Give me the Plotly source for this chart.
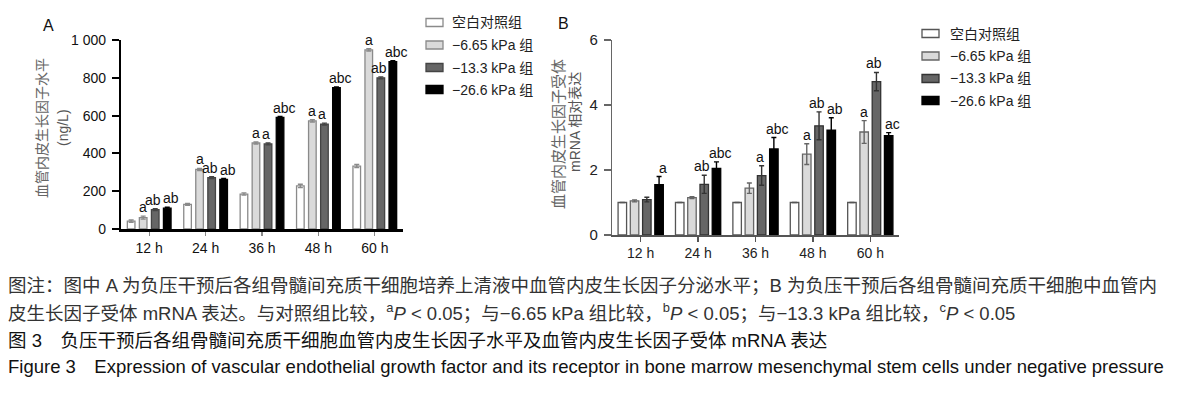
import plotly.graph_objects as go

W, H = 1179, 394
BASE = "Liberation Sans, Arial, Noto Sans CJK SC, sans-serif"

categories = ["12 h", "24 h", "36 h", "48 h", "60 h"]
groups = ["空白对照组", "−6.65 kPa 组", "−13.3 kPa 组", "−26.6 kPa 组"]

# Panel A: VEGF level (ng/L)
a_ctrl = [42, 130, 185, 228, 333]
a_665 = [60, 315, 455, 572, 948]
a_133 = [103, 272, 450, 555, 800]
a_266 = [110, 263, 590, 748, 886]
a_err_ctrl = [6, 5, 6, 9, 8]
a_err_665 = [8, 6, 5, 6, 6]
a_err_133 = [5, 5, 5, 5, 5]
a_err_266 = [5, 4, 5, 4, 5]
a_sig_ctrl = ["", "", "", "", ""]
a_sig_665 = ["a", "a", "a", "a", "a"]
a_sig_133 = ["ab", "ab", "a", "a", "ab"]
a_sig_266 = ["ab", "ab", "abc", "abc", "abc"]

# Panel B: VEGFR mRNA relative expression
b_ctrl = [1.0, 1.0, 1.0, 1.0, 1.0]
b_665 = [1.05, 1.15, 1.44, 2.49, 3.17]
b_133 = [1.09, 1.56, 1.83, 3.36, 4.72]
b_266 = [1.55, 2.05, 2.65, 3.23, 3.06]
b_err_ctrl = [0, 0, 0, 0, 0]
b_err_665 = [0.03, 0.03, 0.16, 0.32, 0.35]
b_err_133 = [0.07, 0.28, 0.30, 0.43, 0.28]
b_err_266 = [0.25, 0.20, 0.35, 0.38, 0.09]
b_sig_ctrl = ["", "", "", "", ""]
b_sig_665 = ["", "", "", "a", "a"]
b_sig_133 = ["", "ab", "a", "ab", "ab"]
b_sig_266 = ["a", "abc", "abc", "ab", "ac"]

a_ticks = [0, 200, 400, 600, 800, 1000]
a_ticktext = ["0", "200", "400", "600", "800", "1 000"]
b_ticks = [0, 2, 4, 6]

fills = ["#ffffff", "#dadada", "#666666", "#000000"]
lines_a = ["#8a8a8a", "#8a8a8a", "#444444", "#000000"]
lines_b = ["#555555", "#666666", "#333333", "#000000"]
offsets = [-0.32, -0.107, 0.107, 0.32]
label_shift = [0, 0, -2, 4]


def px(x):
    return x / W


def py(y):
    return 1 - y / H


fig = go.Figure()
annotations = []
shapes = []

panelA = [(a_ctrl, a_err_ctrl, a_sig_ctrl), (a_665, a_err_665, a_sig_665),
          (a_133, a_err_133, a_sig_133), (a_266, a_err_266, a_sig_266)]
panelB = [(b_ctrl, b_err_ctrl, b_sig_ctrl), (b_665, b_err_665, b_sig_665),
          (b_133, b_err_133, b_sig_133), (b_266, b_err_266, b_sig_266)]

for panel, xa, ya, bw, lcols in [(panelA, "x", "y", 0.135, lines_a), (panelB, "x2", "y2", 0.148, lines_b)]:
    for k, (vals, errs, sigs) in enumerate(panel):
        fig.add_trace(go.Bar(
            x=categories, y=vals, xaxis=xa, yaxis=ya,
            offset=offsets[k] - bw / 2, width=bw,
            marker=dict(color=fills[k], line=dict(color=lcols[k], width=1.3)),
            error_y=dict(type="data", array=errs, visible=True, color=lcols[k],
                         thickness=1.4, width=2.5),
            showlegend=False, name=groups[k], hoverinfo="skip",
        ))
        for i, s in enumerate(sigs):
            if s:
                annotations.append(dict(
                    x=i + offsets[k], y=vals[i] + errs[i], xref=xa, yref=ya,
                    text=s, showarrow=False, xanchor="center", yanchor="bottom",
                    yshift=-1, xshift=label_shift[k],
                    font=dict(family=BASE, size=14, color="#111111"),
                ))

# Legends (drawn manually)
for (bx, rows, lcols, tx) in [(426, [22.5, 45, 67.5, 89.5], lines_a, 450),
                              (922, [33.5, 56, 78.5, 100.5], lines_b, 948)]:
    for k, ry in enumerate(rows):
        shapes.append(dict(type="rect", xref="paper", yref="paper",
                           x0=px(bx), x1=px(bx + 17), y0=py(ry + 4), y1=py(ry - 4),
                           fillcolor=fills[k], line=dict(color=lcols[k], width=1.3)))
        annotations.append(dict(x=px(tx), y=py(ry), xref="paper", yref="paper",
                                text=groups[k], showarrow=False, xanchor="left",
                                yanchor="middle",
                                font=dict(family=BASE, size=14, color="#222222")))

# Panel letters
annotations.append(dict(x=px(48), y=py(25), xref="paper", yref="paper", text="A",
                        xanchor="center", yanchor="middle",
                        showarrow=False, font=dict(family=BASE, size=16, color="#111")))
annotations.append(dict(x=px(563), y=py(24), xref="paper", yref="paper", text="B",
                        xanchor="center", yanchor="middle",
                        showarrow=False, font=dict(family=BASE, size=16, color="#111")))

# Y-axis titles
ytitles = [
    ("血管内皮生长因子水平", 42, 128, 14, "#666666"),
    ("(ng/L)", 63, 128, 14, "#555555"),
    ("血管内皮生长因子受体", 558, 134, 15, "#666666"),
    ("mRNA 相对表达", 575, 122, 14, "#555555"),
]
for txt, xx, yy, fs, col in ytitles:
    annotations.append(dict(x=px(xx), y=py(yy), xref="paper", yref="paper",
                            text=txt, textangle=-90, showarrow=False,
                            xanchor="center", yanchor="middle",
                            font=dict(family=BASE, size=fs, color=col)))

# Caption
caption = [
    ("图注：图中 A 为负压干预后各组骨髓间充质干细胞培养上清液中血管内皮生长因子分泌水平；B 为负压干预后各组骨髓间充质干细胞中血管内", 285, "#333333"),
    ("皮生长因子受体 mRNA 表达。与对照组比较，<sup>a</sup><i>P</i> &lt; 0.05；与−6.65 kPa 组比较，<sup>b</sup><i>P</i> &lt; 0.05；与−13.3 kPa 组比较，<sup>c</sup><i>P</i> &lt; 0.05", 312, "#333333"),
    ("图 3　负压干预后各组骨髓间充质干细胞血管内皮生长因子水平及血管内皮生长因子受体 mRNA 表达", 340, "#111111"),
    ("Figure 3　Expression of vascular endothelial growth factor and its receptor in bone marrow mesenchymal stem cells under negative pressure", 366, "#111111"),
]
for txt, yy, col in caption:
    annotations.append(dict(x=px(6), y=py(yy), xref="paper", yref="paper", text=txt,
                            showarrow=False, xanchor="left", yanchor="middle",
                            font=dict(family=BASE, size=18.5, color=col)))

fig.update_layout(
    width=W, height=H, margin=dict(l=0, r=0, t=0, b=0, pad=0, autoexpand=False),
    paper_bgcolor="white", plot_bgcolor="white",
    barmode="overlay", showlegend=False, hovermode=False,
    annotations=annotations, shapes=shapes,
    font=dict(family=BASE, size=14, color="#222"),
    xaxis=dict(domain=[px(121), px(403)], range=[-0.5, 4.5], type="category",
               automargin=False,
               showline=True, linecolor="#000", linewidth=2.5, ticks="outside",
               ticklen=4, tickcolor="#888", tickwidth=1.2, ticklabelstandoff=1,
               tickfont=dict(family=BASE, size=14, color="#111"), showgrid=False,
               zeroline=False),
    yaxis=dict(domain=[py(229), py(40)], range=[0, 1000], tickvals=a_ticks,
               automargin=False,
               ticktext=a_ticktext, showline=True, linecolor="#000", linewidth=2.2,
               ticks="outside", ticklen=7, tickwidth=2, tickcolor="#000",
               ticklabelstandoff=3,
               tickfont=dict(family=BASE, size=14, color="#111"), showgrid=False,
               zeroline=False),
    xaxis2=dict(domain=[px(612), px(899)], range=[-0.5, 4.5], type="category",
                automargin=False,
                anchor="y2", showline=True, linecolor="#555", linewidth=1.5,
                ticks="outside", ticklen=5, tickcolor="#555", tickwidth=1.5,
                ticklabelstandoff=0,
                tickfont=dict(family=BASE, size=14, color="#222"), showgrid=False,
                zeroline=False),
    yaxis2=dict(domain=[py(235), py(40)], range=[0, 6], tickvals=b_ticks,
                automargin=False,
                anchor="x2", showline=True, linecolor="#666", linewidth=1.2,
                ticks="outside", ticklen=7, tickwidth=1.2, tickcolor="#666",
                ticklabelstandoff=3,
                tickfont=dict(family=BASE, size=15, color="#222"), showgrid=False,
                zeroline=False),
)

fig.write_html("out.html", config={"displayModeBar": False, "staticPlot": True},
               post_script="document.body.style.margin='0px';")
